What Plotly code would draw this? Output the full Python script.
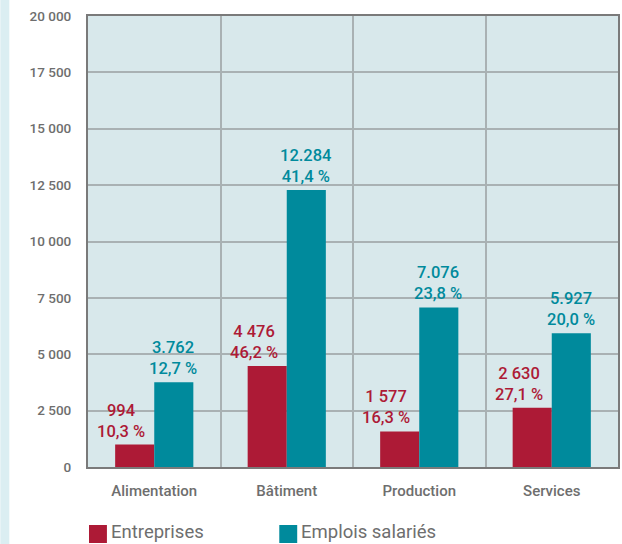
import plotly.graph_objects as go

categories = ["Alimentation", "Bâtiment", "Production", "Services"]
series_names = ["Entreprises", "Emplois salariés"]
entreprises = [994, 4476, 1577, 2630]
entreprises_pct = ["10,3 %", "46,2 %", "16,3 %", "27,1 %"]
entreprises_lbl = ["994", "4 476", "1 577", "2 630"]
emplois = [3762, 12284, 7076, 5927]
emplois_pct = ["12,7 %", "41,4 %", "23,8 %", "20,0 %"]
emplois_lbl = ["3.762", "12.284", "7.076", "5.927"]
tick_vals = [0, 2500, 5000, 7500, 10000, 12500, 15000, 17500, 20000]
tick_text = ["0", "2 500", "5 000", "7 500", "10 000", "12 500", "15 000", "17 500", "20 000"]

RED = "#ad1a36"
TEAL = "#008a9c"
GREY = "#6e6e6e"
FONT = "Roboto"

W, H = 622, 544
ml, mr, mt, mb = 88, 2, 16, 77
pw = W - ml - mr
ph = H - mt - mb

fig = go.Figure()
fig.add_trace(go.Bar(x=categories, y=entreprises, name=series_names[0],
                     marker=dict(color=RED, line=dict(width=0))))
fig.add_trace(go.Bar(x=categories, y=emplois, name=series_names[1],
                     marker=dict(color=TEAL, line=dict(width=0))))

annotations = []
for c, v, l, p in zip(categories, entreprises, entreprises_lbl, entreprises_pct):
    annotations.append(dict(x=c, y=v, text=f"{l}<br>{p}", showarrow=False,
                            xanchor="center", yanchor="bottom", xshift=-33, yshift=2,
                            font=dict(family=FONT, size=16.5, color=RED, weight=500)))
for c, v, l, p in zip(categories, emplois, emplois_lbl, emplois_pct):
    annotations.append(dict(x=c, y=v, text=f"{l}<br>{p}", showarrow=False,
                            xanchor="center", yanchor="bottom", xshift=19, yshift=2,
                            font=dict(family=FONT, size=16.5, color=TEAL, weight=500)))

# manual legend
def px_x(p):
    return (p - ml) / pw

def px_y(p):
    return 1 - (p - mt) / ph

shapes = [
    dict(type="rect", xref="paper", yref="paper", x0=px_x(0), x1=px_x(9),
         y0=px_y(H), y1=px_y(0), fillcolor="#dbeef2", line=dict(width=0), layer="below"),
]
legend_items = [(series_names[0], RED, 89), (series_names[1], TEAL, 280)]
for name, col, x0 in legend_items:
    shapes.append(dict(type="rect", xref="paper", yref="paper",
                       x0=px_x(x0), x1=px_x(x0 + 18), y0=px_y(543), y1=px_y(525),
                       fillcolor=col, line=dict(width=0)))
    annotations.append(dict(xref="paper", yref="paper", x=px_x(x0 + 20), y=px_y(532),
                            text=name, showarrow=False, xanchor="left", yanchor="middle",
                            font=dict(family=FONT, size=18.5, color=GREY)))

fig.update_layout(
    width=W, height=H,
    margin=dict(l=ml, r=mr, t=mt, b=mb, pad=0),
    paper_bgcolor="white",
    plot_bgcolor="#d8e8eb",
    barmode="group",
    bargap=0.41,
    bargroupgap=0,
    showlegend=False,
    font=dict(family=FONT, color=GREY),
    annotations=annotations,
    shapes=shapes,
)
fig.update_xaxes(
    tickson="boundaries", showgrid=True, gridcolor="#a9b1b3", gridwidth=1.5,
    showline=True, linecolor="#7a7a7a", linewidth=2, mirror=True,
    ticks="", tickfont=dict(family=FONT, size=15, color=GREY, weight=500),
    ticklabelstandoff=9,
)
fig.update_yaxes(
    range=[0, 20000], tickvals=tick_vals, ticktext=tick_text,
    showgrid=True, gridcolor="#a9b1b3", gridwidth=1.5, zeroline=False,
    showline=True, linecolor="#7a7a7a", linewidth=2, mirror=True,
    ticks="", tickfont=dict(family=FONT, size=13.5, color=GREY, weight=500),
    ticklabelstandoff=12,
)

fig.write_html("out.html")
